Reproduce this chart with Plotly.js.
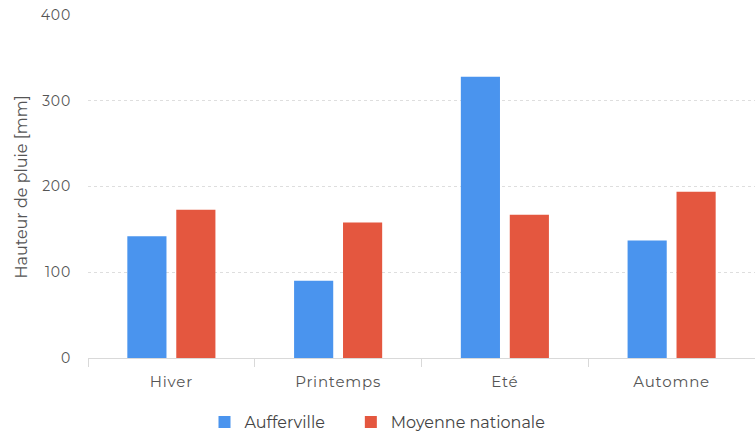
<!DOCTYPE html>
<html><head><meta charset="utf-8">
<script src="https://cdn.plot.ly/plotly-3.0.1.min.js"></script>
<style>
html,body{margin:0;padding:0;background:#fff;}
#chart{width:755px;height:432px;}
#chart svg .xtick text,#chart svg .ytick text{letter-spacing:0.8px;}
</style>
</head><body><div id="chart"></div>
<script>
const categories = ["Hiver", "Printemps", "Eté", "Automne"];
const aufferville = [142, 90, 328, 137];
const moyenneNationale = [173, 158, 167, 194];
const seriesNames = ["Aufferville", "Moyenne nationale"];
const yTicks = [0, 100, 200, 300, 400];
const yTitle = "Hauteur de pluie [mm]";

const font = "Montserrat, 'Open Sans', Lato, sans-serif";
const pad = "\u00a0\u00a0\u00a0\u00a0\u00a0";
const data = [
  {type: "bar", x: categories, y: aufferville, name: seriesNames[0] + pad, marker: {color: "#4a94ee"}, hoverinfo: "skip"},
  {type: "bar", x: categories, y: moyenneNationale, name: seriesNames[1], marker: {color: "#e4573f"}, hoverinfo: "skip"}
];
const layout = {
  width: 755, height: 432,
  margin: {l: 88, r: 0, t: 15, b: 74, autoexpand: false},
  paper_bgcolor: "#fff", plot_bgcolor: "#fff",
  font: {family: font, size: 14, color: "#555"},
  barmode: "group", bargap: 0.413, bargroupgap: 0.2,
  showlegend: true,
  legend: {orientation: "h", xref: "container", x: 0.5, xanchor: "center",
           y: -0.187, yanchor: "middle", font: {size: 16, color: "#444"},
           itemwidth: 30},
  xaxis: {
    type: "category", showgrid: false, showline: true, linecolor: "#d9d9d9", linewidth: 1,
    ticks: "outside", tickson: "boundaries", ticklen: 8, tickcolor: "#d9d9d9",
    ticklabelstandoff: 10,
    tickfont: {size: 15, color: "#555"}, zeroline: false, fixedrange: true
  },
  yaxis: {
    range: [0, 400], tickvals: yTicks, showgrid: true,
    gridcolor: "#dedede", griddash: "dot", gridwidth: 1, zeroline: false, showline: false,
    ticks: "", ticklabelstandoff: 16, tickfont: {size: 14, color: "#555"},
    fixedrange: true
  },
  annotations: [{
    text: yTitle, textangle: -90, showarrow: false,
    xref: "paper", yref: "paper", x: -0.099, y: 0.5, xanchor: "center", yanchor: "middle",
    font: {size: 16, color: "#555"}
  }]
};
Plotly.newPlot("chart", data, layout, {displayModeBar: false, staticPlot: true});
</script></body></html>
